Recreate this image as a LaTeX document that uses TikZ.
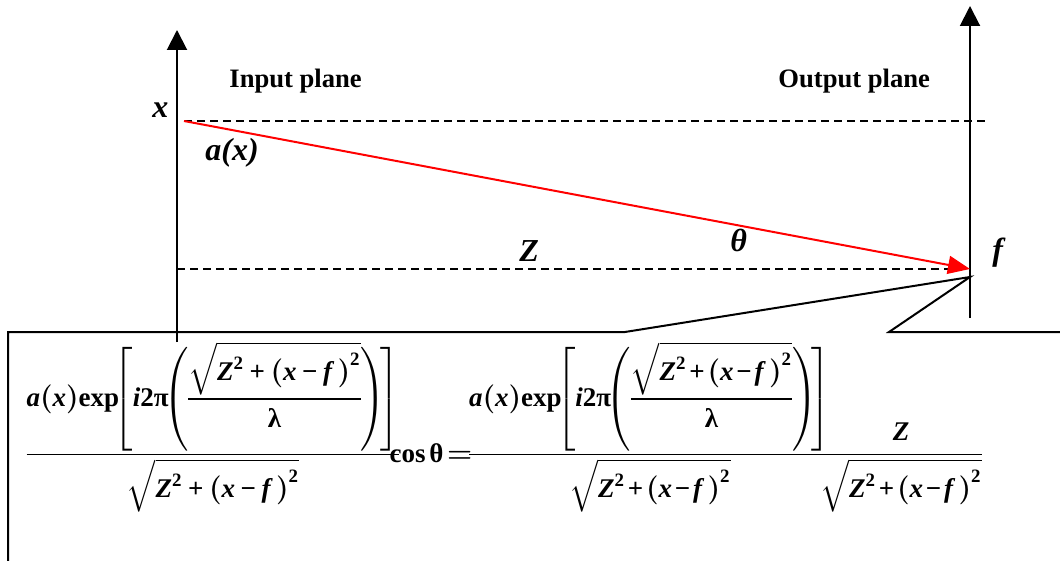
\documentclass[tikz,border=0pt]{standalone}
\usepackage{amsmath}
\usepackage{fontspec}
\setmainfont{Liberation Serif}
\usetikzlibrary{arrows.meta}
\setlength\nulldelimiterspace{0pt}
\delimiterfactor=850
\delimitershortfall=20pt
\newcommand\vi[1]{\text{\bfseries\itshape #1}}
\newcommand\vu[1]{\text{\bfseries #1}}
\newcommand\pl{\mathbin{\vu{+}}}
\newcommand\mn{\mathbin{\vu{−}}}
\newcommand\sq{\sqrt{\vi{Z}^{\vu{2}}\pl{\left(\vi{x}\mn\vi{f}\,\right)}^{\vu{2}}}}
\newcommand\numer{\vi{a}{\left(\vi{x}\right)}\vu{exp}\!{\left[\vi{i}\vu{2π}\!{\left(\dfrac{\sq}{\vu{λ}}\right)}\!\right]}}
\tikzset{
  axis/.style={line width=1pt,-{Triangle[length=10pt,width=10pt]}},
  guide/.style={line width=0.8pt,dash pattern=on 4pt off 2.5pt},
  ray/.style={red,line width=1pt,-{Triangle[length=11pt,width=9pt]}},
  frame/.style={line width=1pt},
  lbl/.style={inner sep=0pt,anchor=base west,font=\fontsize{16}{18}\selectfont\bfseries\itshape},
  ttl/.style={inner sep=0pt,anchor=base west,font=\fontsize{13.3}{16}\selectfont\bfseries},
  eq/.style={inner sep=0pt,anchor=base,font=\fontsize{13.5}{16}\selectfont\boldmath}
}
\begin{document}
\begin{tikzpicture}[x=0.5pt,y=-0.5pt]
\useasboundingbox (0,0) rectangle (1060,561);
% coordinates
\coordinate (inB) at (177,342);
\coordinate (inT) at (177,30);
\coordinate (outB) at (970,318);
\coordinate (outT) at (970,6);
\coordinate (src) at (184,121);
\coordinate (dst) at (970,269);
\coordinate (topE) at (985,121);
\coordinate (botS) at (177,269);
\coordinate (botE) at (952,269);
\coordinate (c1) at (8,561);
\coordinate (c2) at (8,332);
\coordinate (c3) at (625,332);
\coordinate (c4) at (970,277);
\coordinate (c5) at (889,332);
\coordinate (c6) at (1060,332);
% axes
\draw[axis] (inB) -- (inT);
\draw[axis] (outB) -- (outT);
% guide lines
\draw[guide] (src) -- (topE);
\draw[guide] (botS) -- (botE);
% ray
\draw[ray] (src) -- (dst);
% callout frame
\draw[frame,line join=miter] (c1) -- (c2) -- (c3) -- (c4) -- (c5) -- (c6);
% labels
\node[lbl] (lx) at (152,118) {x};
\node[ttl] (lin) at (229,88) {Input plane};
\node[ttl] (lout) at (778,88) {Output plane};
\node[lbl] (lax) at (205,161) {a(x)};
\node[lbl] (lz) at (519,262) {Z};
\node[lbl] (lth) at (730,252) {θ};
\node[lbl] (lf) at (992,261) {f};
% formula
\node[eq] (f1) at (213,462) {$\medmuskip=3mu\displaystyle\frac{\numer}{\sq}$};
\node[eq] (fc) at (431,462) {$\vu{cos}\mkern2mu\vu{θ}\mkern2mu{=}$};
\node[eq] (f2) at (650,462) {$\medmuskip=1.5mu\displaystyle\frac{\numer}{\sq}$};
\node[eq] (f3) at (901,462) {$\medmuskip=1.5mu\displaystyle\frac{\vi{Z}}{\sq}$};
\end{tikzpicture}
\end{document}
